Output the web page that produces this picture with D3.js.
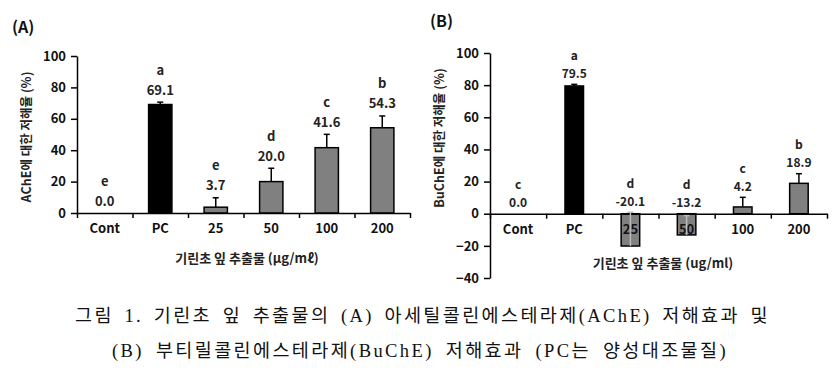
<!DOCTYPE html>
<html>
<head>
<meta charset="utf-8">
<script src="https://cdn.jsdelivr.net/npm/d3@7"></script>
<style>
  html, body { margin: 0; padding: 0; background: #fff; }
  svg text { font-family: "Noto Sans CJK KR", "Noto Sans", sans-serif; }
</style>
</head>
<body>
<div id="chart"></div>
<script>
// categories shared by both panels
const categories = ["Cont", "PC", "25", "50", "100", "200"];

// (A) AChE inhibition
const acheValues = [0.0, 69.1, 3.7, 20.0, 41.6, 54.3];
const acheErrors = [0, 1.5, 6.0, 8.5, 8.5, 7.5];
const acheLetters = ["e", "a", "e", "d", "c", "b"];
const acheTicks = [0, 20, 40, 60, 80, 100];

// (B) BuChE inhibition
const bucheValues = [0.0, 79.5, -20.1, -13.2, 4.2, 18.9];
const bucheErrors = [0, 1.0, 21.0, 12.0, 6.0, 6.0];
const bucheLetters = ["c", "a", "d", "d", "c", "b"];
const bucheTicks = [-40, -20, 0, 20, 40, 60, 80, 100];

const captionLines = [
    "그림 1. 기린초 잎 추출물의 (A) 아세틸콜린에스테라제(AChE) 저해효과 및",
    "(B) 부티릴콜린에스테라제(BuChE) 저해효과 (PC는 양성대조물질)"
];

const width = 840, height = 376;

const svg = d3.select("#chart").append("svg")
    .attr("width", width)
    .attr("height", height);

function drawPanel(cfg) {
    const g = svg.append("g");

    const x = d3.scaleBand()
        .domain(categories)
        .range(cfg.xRange)
        .padding(0);

    const y = d3.scaleLinear()
        .domain(cfg.yDomain)
        .range(cfg.yRange);

    const bw = x.bandwidth();
    const barW = bw * cfg.barRatio;

    const rows = categories.map((c, i) => ({
        cat: c, value: cfg.values[i], err: cfg.errors[i], letter: cfg.letters[i]
    }));

    // y axis
    const yAxis = d3.axisLeft(y).tickValues(cfg.ticks).tickSize(6).tickSizeOuter(0).tickPadding(5);
    const yg = g.append("g")
        .attr("transform", `translate(${cfg.xRange[0]},0)`)
        .call(yAxis);
    yg.select(".domain").attr("stroke", "#000").attr("stroke-width", 1.5);
    yg.selectAll(".tick line").attr("stroke", "#000").attr("stroke-width", 1.5);
    yg.selectAll(".tick text")
        .attr("font-size", 13).attr("font-weight", "bold").attr("fill", "#111")
        .style("font-family", "'Noto Sans CJK KR', sans-serif");

    // bars
    g.selectAll(".bar")
        .data(rows.filter(d => d.value !== 0))
        .enter()
        .append("rect")
        .attr("class", "bar")
        .attr("x", d => x(d.cat) + (bw - barW) / 2)
        .attr("width", barW)
        .attr("y", d => y(Math.max(d.value, 0)))
        .attr("height", d => Math.abs(y(d.value) - y(0)))
        .attr("fill", d => d.cat === "PC" ? "#000" : "#808080")
        .attr("stroke", "#000")
        .attr("stroke-width", 1.5);

    // x axis: boundary ticks on a linear scale across the bands
    const xb = d3.scaleLinear().domain([0, categories.length]).range(cfg.xRange);
    const xg = g.append("g")
        .attr("transform", `translate(0,${y(0)})`)
        .call(d3.axisBottom(xb).ticks(categories.length).tickSize(5).tickSizeOuter(0).tickFormat(""));
    xg.select(".domain").attr("stroke", "#000").attr("stroke-width", 1.5);
    xg.selectAll(".tick line").attr("stroke", "#000").attr("stroke-width", 1.5);

    // category labels
    const xl = g.append("g")
        .attr("transform", `translate(0,${y(0)})`)
        .call(d3.axisBottom(x).tickSize(0).tickPadding(11));
    xl.select(".domain").remove();
    xl.selectAll(".tick text")
        .attr("font-size", 13).attr("font-weight", "bold").attr("fill", "#111")
        .style("font-family", "'Noto Sans CJK KR', sans-serif");

    // error bars
    const eb = g.selectAll(".err")
        .data(rows.filter(d => d.err > 0))
        .enter()
        .append("g")
        .attr("class", "err")
        .attr("stroke", d => d.value < 0 ? "#bbb" : "#000")
        .attr("stroke-width", 1.5);
    eb.append("line")
        .attr("x1", d => x(d.cat) + bw / 2)
        .attr("x2", d => x(d.cat) + bw / 2)
        .attr("y1", d => y(d.value))
        .attr("y2", d => y(d.value + d.err));
    eb.append("line")
        .attr("x1", d => x(d.cat) + bw / 2 - 3)
        .attr("x2", d => x(d.cat) + bw / 2 + 3)
        .attr("y1", d => y(d.value + d.err))
        .attr("y2", d => y(d.value + d.err));

    // value and significance labels
    const top = d => y(Math.max(d.value + d.err, 0));
    g.selectAll(".val")
        .data(rows)
        .enter()
        .append("text")
        .attr("class", "val")
        .attr("x", d => x(d.cat) + bw / 2)
        .attr("y", d => top(d) - cfg.labelGap)
        .attr("text-anchor", "middle")
        .attr("dominant-baseline", "central")
        .attr("font-size", cfg.labelSize)
        .attr("font-weight", "bold")
        .attr("fill", "#222")
        .text(d => d.value.toFixed(1));

    g.selectAll(".sig")
        .data(rows)
        .enter()
        .append("text")
        .attr("class", "sig")
        .attr("x", d => x(d.cat) + bw / 2)
        .attr("y", d => top(d) - cfg.labelGap - cfg.letterGap)
        .attr("text-anchor", "middle")
        .attr("dominant-baseline", "central")
        .attr("font-size", cfg.labelSize)
        .attr("font-weight", "bold")
        .attr("fill", "#222")
        .text(d => d.letter);

    // axis titles
    g.append("text")
        .attr("transform", `translate(${cfg.yTitlePos[0]},${cfg.yTitlePos[1]}) rotate(-90)`)
        .attr("text-anchor", "middle")
        .attr("dominant-baseline", "central")
        .attr("font-size", 12.5)
        .attr("font-weight", "bold")
        .attr("fill", "#222")
        .text(cfg.yTitle);

    g.append("text")
        .attr("x", cfg.xTitlePos[0])
        .attr("y", cfg.xTitlePos[1])
        .attr("text-anchor", "middle")
        .attr("dominant-baseline", "central")
        .attr("font-size", 13)
        .attr("font-weight", "bold")
        .attr("fill", "#222")
        .text(cfg.xTitle);

    g.append("text")
        .attr("x", cfg.panelPos[0])
        .attr("y", cfg.panelPos[1])
        .attr("font-size", 16)
        .attr("font-weight", "bold")
        .attr("fill", "#111")
        .text(cfg.panel);
}

drawPanel({
    values: acheValues, errors: acheErrors, letters: acheLetters, ticks: acheTicks,
    xRange: [77, 410], yDomain: [0, 100], yRange: [213, 56],
    barRatio: 0.42, labelGap: 13, letterGap: 20, labelSize: 13,
    yTitle: "AChE에 대한 저해율 (%)", yTitlePos: [25, 137],
    xTitle: "기린초 잎 추출물 (μg/mℓ)", xTitlePos: [247, 257],
    panel: "(A)", panelPos: [12, 33]
});

drawPanel({
    values: bucheValues, errors: bucheErrors, letters: bucheLetters, ticks: bucheTicks,
    xRange: [490, 827], yDomain: [-40, 100], yRange: [278, 53],
    barRatio: 0.33, labelGap: 12, letterGap: 18, labelSize: 12,
    yTitle: "BuChE에 대한 저해율 (%)", yTitlePos: [438, 138],
    xTitle: "기린초 잎 추출물 (ug/ml)", xTitlePos: [663, 262],
    panel: "(B)", panelPos: [430, 27]
});

// figure caption: tracking, then word gaps widened to justify
const capSpans = [[75, 695], [112, 616]];
svg.selectAll(".caption")
    .data(captionLines)
    .enter()
    .append("text")
    .attr("class", "caption")
    .attr("x", (d, i) => capSpans[i][0])
    .attr("y", (d, i) => 322 + i * 35)
    .attr("font-size", 18.5)
    .attr("fill", "#111")
    .style("font-family", "'Liberation Serif', 'Noto Sans CJK KR', serif")
    .style("letter-spacing", "2.4px")
    .text(d => d)
    .each(function (d, i) {
        const natural = this.getBBox().width;
        const gaps = d.split(" ").length - 1;
        const extra = Math.max(0, (capSpans[i][1] - natural) / gaps);
        d3.select(this).style("word-spacing", `${extra}px`);
    });
</script>
</body>
</html>
